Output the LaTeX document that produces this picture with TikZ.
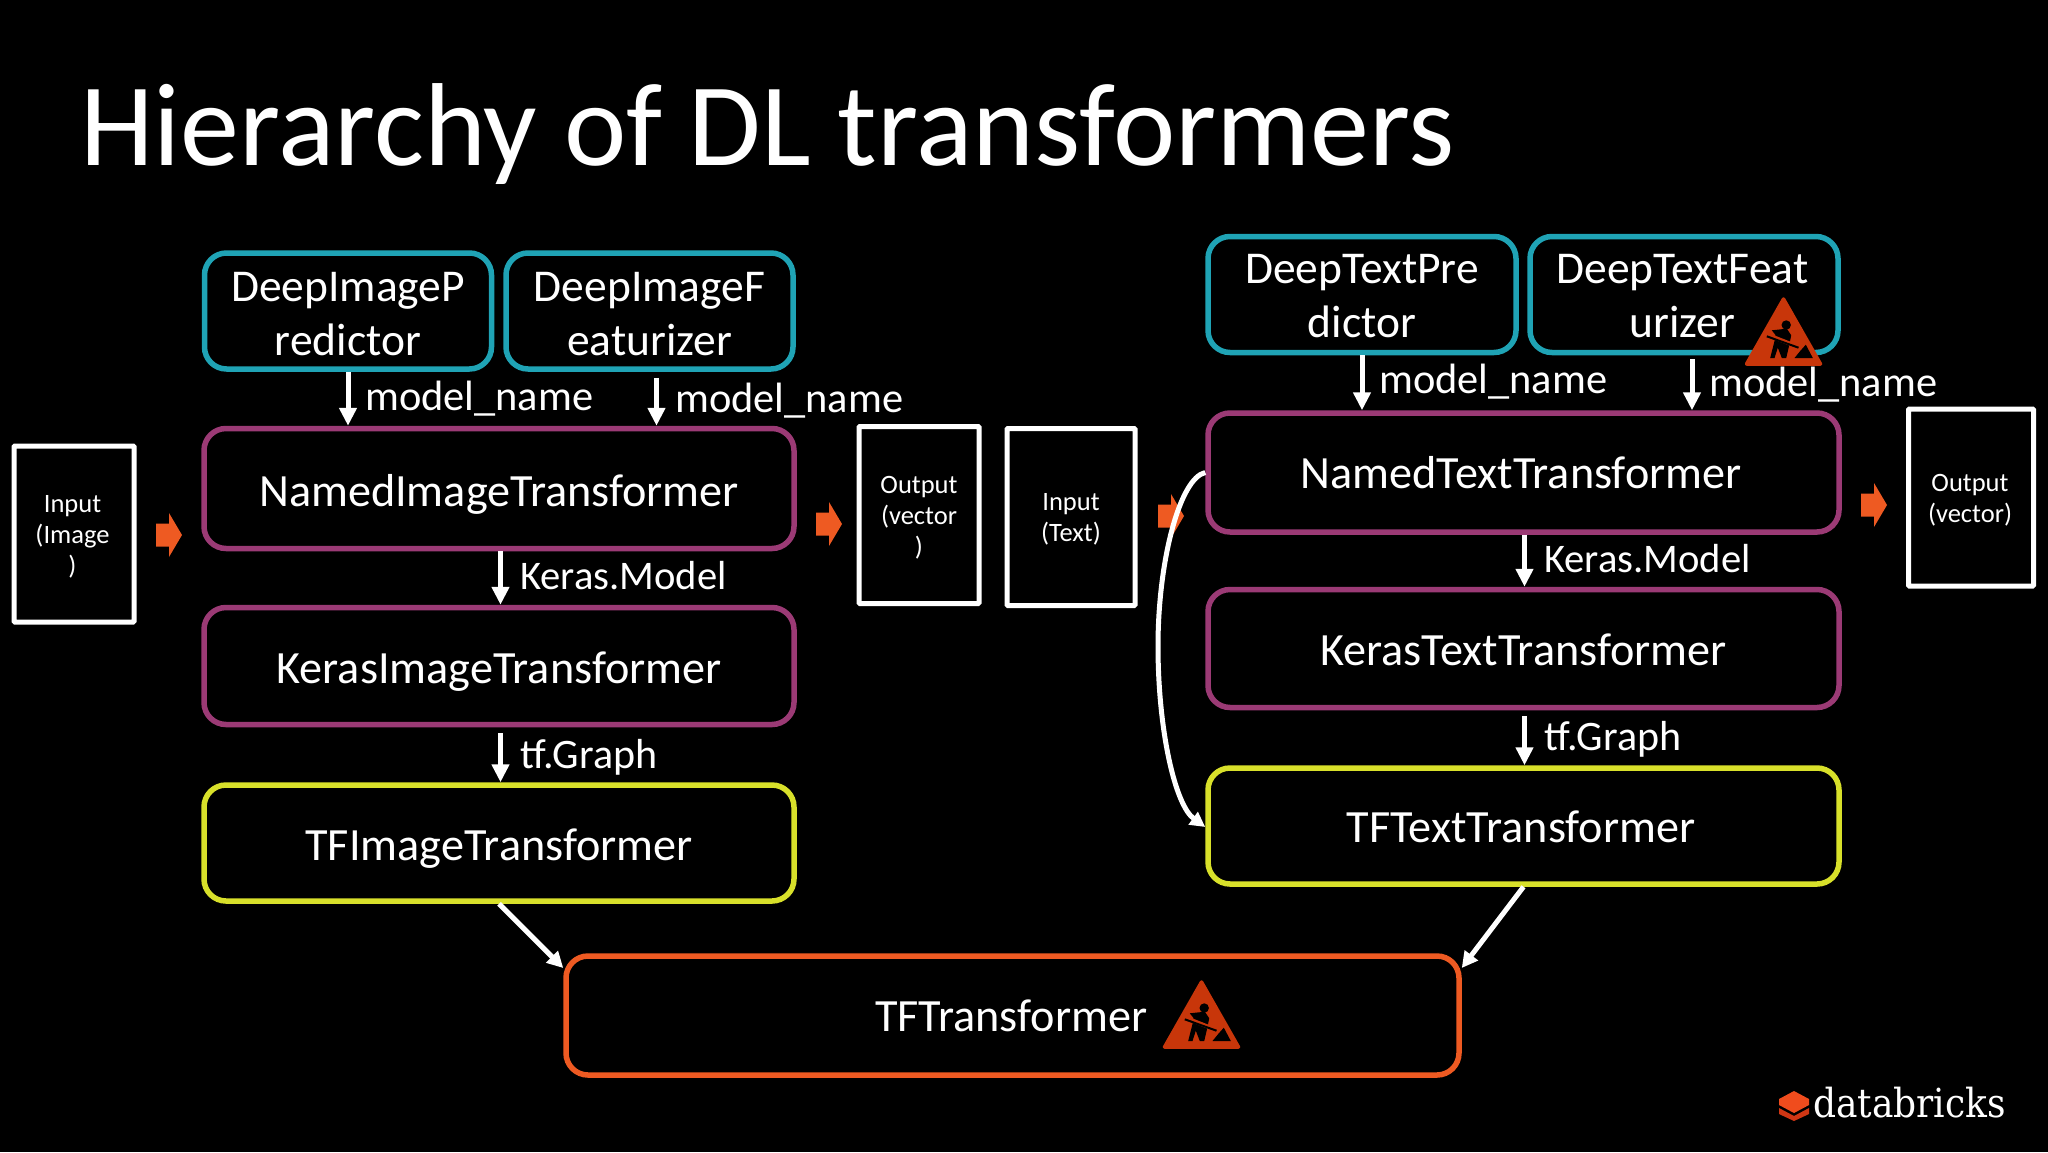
\documentclass[tikz,border=0pt]{standalone}
\usepackage{fontspec}
\setmainfont{Carlito}
\newfontfamily\dbfont{DejaVu Serif Condensed}
\usetikzlibrary{arrows.meta,calc}
\definecolor{teal1}{HTML}{1FA3B5}
\definecolor{purp}{HTML}{9B3A75}
\definecolor{yell}{HTML}{D8E02A}
\definecolor{orng}{HTML}{EE5A22}
\definecolor{signred}{HTML}{C8360A}
\newcommand{\fsz}[2]{\fontsize{#1}{#2}\selectfont}
% text block moved down by #1 from the centre of its node
\newcommand{\tx}[2]{\raisebox{\dimexpr-#1-0.25em\relax}[0pt][0pt]{\begin{tabular}{@{}c@{}}#2\end{tabular}}}
\tikzset{
  x=1pt,y=-1pt,
  boxbase/.style={draw,line width=5.5pt,rounded corners=22pt,text=white,align=center,font=\fsz{46.2}{54},inner sep=0pt},
  tealbox/.style={boxbase,draw=teal1,font=\fsz{45.5}{54},minimum height=116pt},
  purpbox/.style={boxbase,draw=purp},
  yellbox/.style={boxbase,draw=yell},
  orngbox/.style={boxbase,draw=orng},
  iobox/.style={draw=white,line width=5pt,text=white,align=center,font=\fsz{26.5}{31},inner sep=0pt,rounded corners=1pt},
  wa/.style={draw=white,line width=5pt,-{Triangle[length=18pt,width=17pt]}},
  lbl/.style={text=white,anchor=west,inner sep=0pt},
  mlbl/.style={lbl,font=\fsz{42.4}{42}},
  klbl/.style={lbl,font=\fsz{40.6}{42}},
  glbl/.style={lbl,font=\fsz{42}{42}},
  oarrow/.style={fill=orng},
  signshape/.style={fill=signred,draw=signred,line width=3.5pt,line join=round},
}
\newcommand{\orangearrow}[2]{%
  \fill[oarrow] (#1,#2) ++(-13,-11.5) -- ++(13,0) -- ++(0,-10.5) -- ++(13,22) -- ++(-13,22) -- ++(0,-10.5) -- ++(-13,0) -- cycle;}
\newcommand{\worksign}[2]{%
  \begin{scope}[shift={(#1,#2)}]
    \path[signshape] (0,2) -- (37,67) -- (-37,67) -- cycle;
    \fill[black] (2.7,28) circle (4.7pt);
    \fill[black] (-11.7,33.3) -- (3.3,31.7) -- (7.7,38.3) -- (5.7,48.3) -- (2.7,61) -- (-1.7,61) -- (-5.7,50.7) -- (-9,61) -- (-13.3,61) -- (-9,44) -- (-8,38) -- cycle;
    \draw[signred,line width=4pt] (-18,37) -- (15,50);
    \draw[black,line width=2pt] (-16.7,39.3) -- (15,50.7);
    \fill[black] (11,61) -- (29.3,61) -- (22.3,47.7) -- (16.7,54) -- cycle;
  \end{scope}}
\begin{document}
\begin{tikzpicture}
\useasboundingbox (0,0) rectangle (2048,1152);
\fill[black] (0,0) rectangle (2048,1152);
\node[anchor=base west,text=white,font=\fsz{118}{118},inner sep=0pt] (title) at (80,165) {Hierarchy of DL transformers};

% left column
\node[tealbox,minimum width=287pt] (dip) at (348,311) {\tx{2pt}{DeepImageP\\redictor}};
\node[tealbox,minimum width=287pt] (dif) at (649.5,311) {\tx{2pt}{DeepImageF\\eaturizer}};
\node[purpbox,minimum width=590pt,minimum height=120pt] (nit) at (499,488.5) {\tx{2pt}{NamedImageTransformer}};
\node[purpbox,minimum width=590pt,minimum height=117pt] (kit) at (499,666) {\tx{1pt}{KerasImageTransformer}};
\node[yellbox,minimum width=590pt,minimum height=116pt] (tfi) at (499,843) {\tx{1pt}{TFImageTransformer}};
% right column
\node[tealbox,minimum width=308pt] (dtp) at (1362,294.5) {\tx{0pt}{DeepTextPre\\dictor}};
\node[tealbox,minimum width=308pt] (dtf) at (1684,294.5) {\kern-3pt\tx{0pt}{DeepTextFeat\\urizer}};
\node[purpbox,minimum width=631pt,minimum height=119pt] (ntt) at (1523.5,472.5) {\kern-5pt\tx{0pt}{NamedTextTransformer}};
\node[purpbox,minimum width=631pt,minimum height=118pt] (ktt) at (1523.5,648.5) {\tx{1pt}{KerasTextTransformer}};
\node[yellbox,minimum width=631pt,minimum height=116pt] (tft) at (1523.5,826) {\kern-5pt\tx{0pt}{TFTextTransformer}};
% bottom
\node[orngbox,minimum width=893pt,minimum height=119pt,text width=893pt,align=left] (tf) at (1012.5,1015.5) {\hspace*{309pt}TFTransformer};
% in/out
\node[iobox,minimum width=120pt,minimum height=176pt] (inimg) at (74,534) {\kern-3pt\tx{3pt}{Input\\(Image\\)}};
\node[iobox,minimum width=120pt,minimum height=177pt] (outl) at (919,515) {\tx{3pt}{Output\\(vector\\)}};
\node[iobox,minimum width=128pt,minimum height=177pt] (intxt) at (1071,517) {\tx{2pt}{Input\\(Text)}};
\node[iobox,minimum width=125pt,minimum height=177pt] (outr) at (1971,497.5) {\kern-2pt\tx{3pt}{Output\\(vector)}};

% orange arrows
\orangearrow{169}{535}
\orangearrow{829}{524}
\orangearrow{1171}{516}
\orangearrow{1874}{505}

% white connectors
\draw[wa] (dip.south) -- (dip.south |- nit.north);
\draw[wa] ([xshift=7pt,yshift=-6pt]dif.south) -- ([xshift=7pt]dif.south |- nit.north);
\draw[wa] ([xshift=1.5pt]nit.south) -- ([xshift=1.5pt]kit.north);
\draw[wa] ([xshift=1.5pt,yshift=-6pt]kit.south) -- ([xshift=1.5pt]tfi.north);
\draw[wa] (dtp.south) -- (dtp.south |- ntt.north);
\draw[wa] ([xshift=8pt,yshift=-4pt]dtf.south) -- ([xshift=8pt]dtf.south |- ntt.north);
\draw[wa] ([xshift=1pt]ntt.south) -- ([xshift=1pt]ktt.north);
\draw[wa] ([xshift=1pt,yshift=-6pt]ktt.south) -- ([xshift=1pt]tft.north);
\draw[wa,-{Triangle[length=16pt,width=16pt]}] (tfi.south) -- ([yshift=47.5pt]tf.west);
\draw[wa,-{Triangle[length=16pt,width=16pt]}] (tft.south) -- ([yshift=47.5pt]tf.east);
\draw[draw=white,line width=5pt,-{Triangle[length=15pt,width=15pt]}] (ntt.west) .. controls (1180,478) and (1158,560) .. (1158,646) .. controls (1158,730) and (1175,805) .. ([yshift=-1pt]tft.west);

% labels
\node[mlbl] (l1) at (365,399) {model\_name};
\node[mlbl] (l2) at (675,401) {model\_name};
\node[mlbl] (l3) at (1379,382) {model\_name};
\node[mlbl] (l4) at (1709,385) {model\_name};
\node[klbl] (l5) at (520,576) {Keras.Model};
\node[klbl] (l6) at (1544,559) {Keras.Model};
\node[glbl] (l7) at (520,757) {tf.Graph};
\node[glbl] (l8) at (1544,739) {tf.Graph};

% warning signs
\worksign{1783.5}{297}
\worksign{1201.5}{980}

% logo
\begin{scope}[shift={(1794,1106)}]
  \fill[orng!70!red!85!black] (-15,2) -- (0,10) -- (15,2) -- (15,8) -- (0,15) -- (-15,8) -- cycle;
  \fill[orng!85!red] (-15,-1) -- (-15,-7) -- (0,-15) -- (15,-7) -- (15,-1) -- (0,7) -- cycle;
\end{scope}
\node[anchor=base west,text=white,font=\dbfont\fsz{40}{40},inner sep=0pt] (logo) at (1813,1117) {databricks};
\end{tikzpicture}
\end{document}
